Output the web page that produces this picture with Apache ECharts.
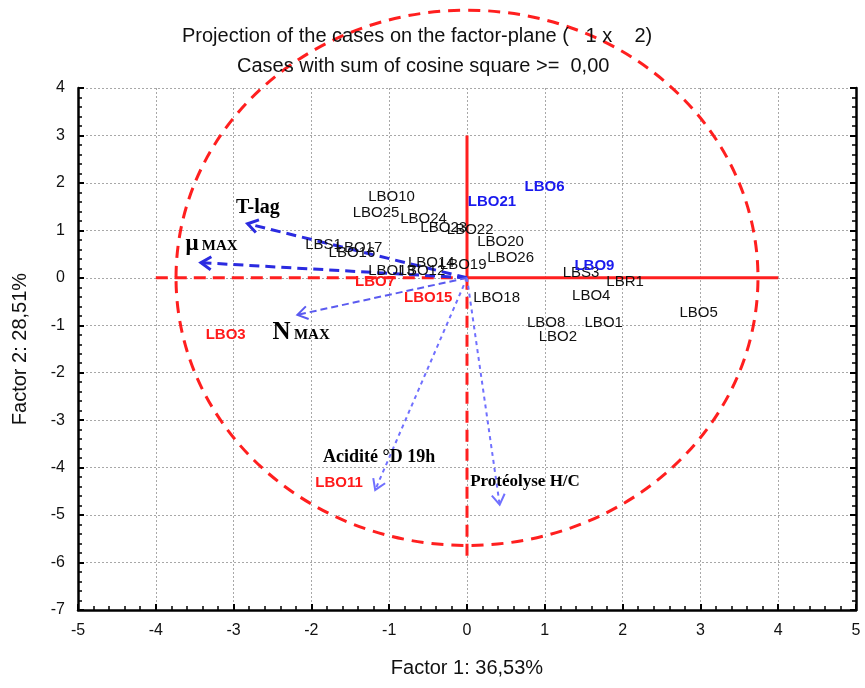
<!DOCTYPE html>
<html>
<head>
<meta charset="utf-8">
<script src="https://cdn.jsdelivr.net/npm/echarts@6/dist/echarts.min.js"></script>
<style>
html,body{margin:0;padding:0;background:#fff;}
#chart{width:865px;height:688px;}
</style>
</head>
<body>
<div id="chart"></div>
<script>
// ---- Data ----
const xTicks = [-5, 5];          // x axis range
const yTicks = [-7, 4];          // y axis range

// Cases (label anchor = case coordinates)
const caseNames = ['LBO10','LBO25','LBO24','LBO23','LBO22','LBO20','LBO26','LBS3','LBR1','LBO4','LBO18','LBO5','LBO8','LBO1','LBO2','LBS1','LBO17','LBO16','LBO14','LBO19','LBO13','LBO12'];
const caseX = [-1.27,-1.47,-0.86,-0.60,-0.26,0.13,0.26,1.23,1.79,1.35,0.08,2.73,0.77,1.51,0.92,-2.08,-1.69,-1.78,-0.76,-0.35,-1.27,-0.88];
const caseY = [1.71,1.37,1.24,1.05,1.01,0.76,0.42,0.11,-0.08,-0.38,-0.42,-0.74,-0.95,-0.95,-1.24,0.70,0.63,0.53,0.32,0.27,0.15,0.15];

const blueNames = ['LBO21','LBO6','LBO9'];
const blueX = [0.01,0.74,1.38];
const blueY = [1.60,1.92,0.25];

const redNames = ['LBO3','LBO11','LBO7','LBO15'];
const redX = [-3.36,-1.95,-1.44,-0.81];
const redY = [-1.20,-4.32,-0.08,-0.42];

// Variable vectors (projected)
const varNames = ['T-lag','μ MAX','N MAX','Acidité °D 19h','Protéolyse H/C'];
const varX = [-2.82,-3.42,-2.18,-1.18,0.42];
const varY = [1.14,0.32,-0.78,-4.47,-4.78];
const varLabelX = [-2.97,-3.62,-2.50,-1.85,0.04];
const varLabelY = [1.48,0.72,-1.16,-3.79,-4.30];

// Reference cross and circle
const crossX = [-4, 4];
const crossY = [-6, 3];
const circleR = [3.74, 5.64];

// ---- Styles ----
const arrowStyles = [
  {stroke:'#2b2be0', lineWidth:3, lineDash:[10,6]},
  {stroke:'#2b2be0', lineWidth:3, lineDash:[10,6]},
  {stroke:'#5a5af0', lineWidth:2, lineDash:[7,4]},
  {stroke:'#7070ff', lineWidth:2, lineDash:[4,4]},
  {stroke:'#7070ff', lineWidth:2, lineDash:[4,4]}
];
const RED = '#ff1f1f';
const SANS = '"Liberation Sans", Arial, sans-serif';
const SERIF = '"Liberation Serif", "Times New Roman", serif';

const chart = echarts.init(document.getElementById('chart'));

function caseSeries(names, xs, ys, color, bold) {
  return {
    type: 'scatter',
    z: 10,
    symbolSize: 0.1,
    itemStyle: {color: 'rgba(0,0,0,0)', opacity: 1},
    silent: true,
    data: names.map((n, i) => ({name: n, value: [xs[i], ys[i]]})),
    label: {
      show: true, position: 'right', distance: 0, opacity: 1,
      formatter: p => p.name,
      color: color, fontFamily: SANS, fontSize: 15,
      fontWeight: bold ? 'bold' : 'normal'
    }
  };
}

const axisCommon = {
  type: 'value',
  interval: 1,
  axisLine: {show: true, onZero: false, lineStyle: {color: '#000', width: 2.5}},
  axisTick: {show: true, inside: true, length: 6, lineStyle: {color: '#000', width: 2}},
  minorTick: {show: true, splitNumber: 5, length: 4, lineStyle: {color: '#000', width: 1.5}},
  splitLine: {show: true, lineStyle: {color: '#a8a8a8', type: [2, 2], width: 1}},
  axisLabel: {color: '#111', fontFamily: SANS, fontSize: 16}
};

const option = {
  animation: false,
  backgroundColor: '#fff',
  title: [
    {text: 'Projection of the cases on the factor-plane (   1 x    2)', left: 177, top: 21,
     textStyle: {fontFamily: SANS, fontSize: 20, fontWeight: 'normal', color: '#111'}},
    {text: 'Cases with sum of cosine square >=  0,00', left: 232, top: 51,
     textStyle: {fontFamily: SANS, fontSize: 20, fontWeight: 'normal', color: '#111'}}
  ],
  grid: {left: 78, right: 9, top: 88, bottom: 78, containLabel: false},
  xAxis: Object.assign({}, axisCommon, {
    min: xTicks[0], max: xTicks[1],
    name: 'Factor 1: 36,53%', nameLocation: 'middle', nameGap: 48,
    nameTextStyle: {fontFamily: SANS, fontSize: 20, color: '#111'},
    axisLabel: Object.assign({}, axisCommon.axisLabel, {margin: 13})
  }),
  yAxis: [
    Object.assign({}, axisCommon, {
      min: yTicks[0], max: yTicks[1],
      name: 'Factor 2: 28,51%', nameLocation: 'middle', nameGap: 48,
      nameTextStyle: {fontFamily: SANS, fontSize: 20, color: '#111'},
      axisLabel: Object.assign({}, axisCommon.axisLabel, {margin: 13})
    }),
    Object.assign({}, axisCommon, {
      min: yTicks[0], max: yTicks[1], position: 'right',
      splitLine: {show: false},
      axisLabel: {show: false}
    })
  ],
  series: [
    // circle
    {
      type: 'custom', z: 2, silent: true, clip: false,
      data: [[0, 0, circleR[0], circleR[1]]],
      renderItem: function (params, api) {
        const c = api.coord([api.value(0), api.value(1)]);
        const s = api.size([api.value(2), api.value(3)]);
        return {
          type: 'ellipse',
          shape: {cx: c[0], cy: c[1], rx: s[0], ry: s[1]},
          style: {fill: null, stroke: RED, lineWidth: 3, lineDash: [12, 8]}
        };
      }
    },
    // red cross
    {type: 'line', z: 3, silent: true, symbol: 'none', data: [[crossX[0], 0], [0, 0]],
     lineStyle: {color: RED, width: 3, type: [12, 7]}},
    {type: 'line', z: 3, silent: true, symbol: 'none', data: [[0, 0], [crossX[1], 0]],
     lineStyle: {color: RED, width: 3, type: 'solid'}},
    {type: 'line', z: 3, silent: true, symbol: 'none', data: [[0, crossY[1]], [0, 0]],
     lineStyle: {color: RED, width: 3, type: 'solid'}},
    {type: 'line', z: 3, silent: true, symbol: 'none', data: [[0, 0], [0, crossY[0]]],
     lineStyle: {color: RED, width: 3, type: [12, 7]}},
    // arrows
    {
      type: 'custom', z: 5, silent: true, clip: false,
      data: varX.map((x, i) => [x, varY[i]]),
      renderItem: function (params, api) {
        const i = params.dataIndex;
        const st = arrowStyles[i];
        const p0 = api.coord([0, 0]);
        const p1 = api.coord([api.value(0), api.value(1)]);
        const ang = Math.atan2(p1[1] - p0[1], p1[0] - p0[0]);
        const L = 12, a = Math.PI / 5.5;
        const h1 = [p1[0] - L * Math.cos(ang - a), p1[1] - L * Math.sin(ang - a)];
        const h2 = [p1[0] - L * Math.cos(ang + a), p1[1] - L * Math.sin(ang + a)];
        return {
          type: 'group',
          children: [
            {type: 'line', shape: {x1: p0[0], y1: p0[1], x2: p1[0], y2: p1[1]},
             style: {stroke: st.stroke, lineWidth: st.lineWidth, lineDash: st.lineDash, fill: null}},
            {type: 'polyline', shape: {points: [h1, p1, h2]},
             style: {stroke: st.stroke, lineWidth: st.lineWidth, fill: null}}
          ]
        };
      }
    },
    // variable labels
    {
      type: 'scatter', z: 11, silent: true, symbolSize: 0.1,
      itemStyle: {color: 'rgba(0,0,0,0)', opacity: 1},
      data: varNames.map((n, i) => ({name: n, value: [varLabelX[i], varLabelY[i]]})),
      label: {
        show: true, position: 'right', distance: 0, opacity: 1,
        formatter: function (p) {
          if (p.name === 'μ MAX') return '{big|μ} {sm|MAX}';
          if (p.name === 'N MAX') return '{bigN|N} {sm|MAX}';
          if (p.name === 'T-lag') return '{t|T-lag}';
          if (p.name === 'Acidité °D 19h') return '{a|' + p.name + '}';
          return '{n|' + p.name + '}';
        },
        rich: {
          big: {fontFamily: SERIF, fontWeight: 'bold', fontSize: 23, color: '#000'},
          bigN: {fontFamily: SERIF, fontWeight: 'bold', fontSize: 25, color: '#000'},
          sm: {fontFamily: SERIF, fontWeight: 'bold', fontSize: 15, color: '#000', padding: [4, 0, 0, 0]},
          t: {fontFamily: SERIF, fontWeight: 'bold', fontSize: 20, color: '#000'},
          a: {fontFamily: SERIF, fontWeight: 'bold', fontSize: 18, color: '#000'},
          n: {fontFamily: SERIF, fontWeight: 'bold', fontSize: 17, color: '#000'}
        }
      }
    },
    caseSeries(caseNames, caseX, caseY, '#111', false),
    caseSeries(blueNames, blueX, blueY, '#1a1aee', true),
    caseSeries(redNames, redX, redY, '#ff1a1a', true)
  ]
};

chart.setOption(option);
</script>
</body>
</html>
